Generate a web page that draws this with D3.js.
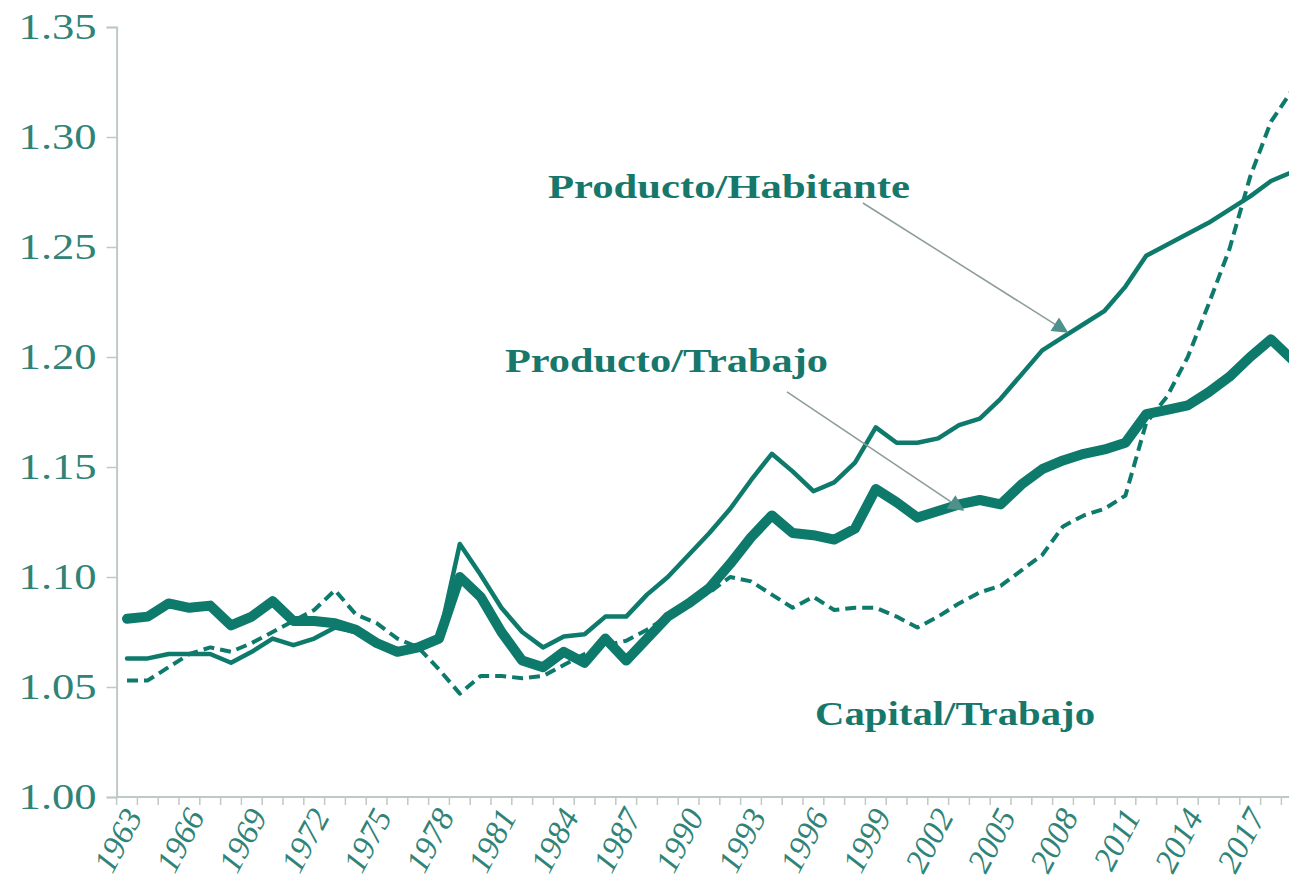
<!DOCTYPE html>
<html>
<head>
<meta charset="utf-8">
<script src="https://cdn.jsdelivr.net/npm/d3@7"></script>
<style>
  html, body { margin: 0; padding: 0; background: #ffffff; }
  svg { display: block; }
</style>
</head>
<body>
<svg id="chart" width="1289" height="887"></svg>
<script>
// ---------------- DATA ----------------
const years = [1963,1964,1965,1966,1967,1968,1969,1970,1971,1972,1973,1974,1975,1976,1977,1978,1979,1980,
  1981,1982,1983,1984,1985,1986,1987,1988,1989,1990,1991,1992,1993,1994,1995,1996,1997,1998,1999,2000,
  2001,2002,2003,2004,2005,2006,2007,2008,2009,2010,2011,2012,2013,2014,2015,2016,2017,2018,2019];

const productoHabitante = [1.063,1.063,1.065,1.065,1.065,1.061,1.066,1.072,1.069,1.072,1.077,1.075,1.070,1.066,1.068,1.072,1.115,1.101,
  1.086,1.075,1.068,1.073,1.074,1.082,1.082,1.092,1.100,1.110,1.120,1.131,1.144,1.156,1.148,1.139,1.143,1.152,1.168,1.161,
  1.161,1.163,1.169,1.172,1.181,1.192,1.203,1.209,1.215,1.221,1.232,1.246,1.251,1.256,1.261,1.267,1.273,1.280,1.284];

const productoTrabajo = [1.081,1.082,1.088,1.086,1.087,1.078,1.082,1.089,1.080,1.080,1.079,1.076,1.070,1.066,1.068,1.072,1.100,1.091,
  1.075,1.062,1.059,1.066,1.061,1.072,1.062,1.072,1.082,1.088,1.095,1.106,1.118,1.128,1.120,1.119,1.117,1.122,1.140,1.134,
  1.127,1.130,1.133,1.135,1.133,1.142,1.149,1.153,1.156,1.158,1.161,1.174,1.176,1.178,1.184,1.191,1.200,1.208,1.199];

const capitalTrabajo = [1.053,1.053,1.059,1.065,1.068,1.066,1.070,1.075,1.080,1.085,1.094,1.083,1.079,1.072,1.068,1.058,1.047,1.055,
  1.055,1.054,1.055,1.060,1.065,1.069,1.071,1.076,1.082,1.088,1.093,1.100,1.098,1.092,1.086,1.091,1.085,1.086,1.086,1.082,
  1.077,1.082,1.088,1.093,1.096,1.103,1.110,1.123,1.128,1.131,1.137,1.170,1.182,1.200,1.224,1.249,1.282,1.307,1.321];

const yTicks = [1.00,1.05,1.10,1.15,1.20,1.25,1.30,1.35];
const xTickLabels = [1963,1966,1969,1972,1975,1978,1981,1984,1987,1990,1993,1996,1999,2002,2005,2008,2011,2014,2017];

// annotation texts (start/end year, baseline value) and arrows (from -> to, in data units)
const labelTexts = ["Producto/Habitante", "Producto/Trabajo", "Capital/Trabajo"];
const labelStart = [1983.24, 1981.17, 1996.08];
const labelEnd   = [2000.64, 1996.70, 2009.54];
const labelValue = [1.2723, 1.1932, 1.0327];
const arrowFromYear = [1998.38, 1994.73];
const arrowFromVal  = [1.2700, 1.1841];
const arrowToYear   = [2008.19, 2003.19];
const arrowToVal    = [1.2114, 1.1305];

// ---------------- LAYOUT ----------------
const svg = d3.select("#chart");
const teal = "#0e7a6c";
const textTeal = "#17776b";
const axisCol = "#bfc9c6";

const x = d3.scaleLinear().domain([1962.5, 2019.5]).range([116.6, 116.6 + 57 * 20.8]);
const y = d3.scaleLinear().domain([1.00, 1.35]).range([797, 27]);

// Y axis
const yAxis = d3.axisLeft(y).tickValues(yTicks).tickSize(10).tickFormat(d3.format(".2f"));
const gy = svg.append("g").attr("transform", `translate(${x(1962.5)},0)`).call(yAxis);
gy.select(".domain").attr("stroke", axisCol).attr("stroke-width", 2);
gy.selectAll(".tick line").attr("stroke", axisCol).attr("stroke-width", 1.5);
gy.selectAll(".tick text")
  .attr("x", -20)
  .attr("textLength", 78)
  .attr("lengthAdjust", "spacingAndGlyphs")
  .attr("fill", "#2f8377")
  .style("font-family", "'Liberation Serif', serif")
  .style("font-size", "35px");

// X axis line and ticks
const boundaries = years.map(d => d - 0.5).concat([2019.5]);
svg.append("line")
  .attr("x1", x(1962.5)).attr("x2", 1289)
  .attr("y1", y(1.0)).attr("y2", y(1.0))
  .attr("stroke", axisCol).attr("stroke-width", 2);
svg.append("g").selectAll("line").data(boundaries).join("line")
  .attr("x1", d => x(d)).attr("x2", d => x(d))
  .attr("y1", y(1.0)).attr("y2", y(1.0) + 8)
  .attr("stroke", axisCol).attr("stroke-width", 1.5);

// X labels (rotated)
svg.append("g").selectAll("g").data(xTickLabels).join("g")
  .attr("transform", d => `translate(${x(d) + 6},${y(1.0) + 14}) rotate(-62)`)
  .append("text")
  .attr("text-anchor", "end")
  .attr("dy", "0.35em")
  .attr("fill", "#2f8377")
  .style("font-family", "'Liberation Serif', serif")
  .style("font-style", "italic")
  .style("font-size", "33px")
  .text(d => d);

// Lines
const mk = vals => d3.line().x((d, i) => x(years[i])).y(d => y(d))(vals);

svg.append("path").attr("d", mk(capitalTrabajo))
  .attr("fill", "none").attr("stroke", teal).attr("stroke-width", 4)
  .attr("stroke-dasharray", "11,6").attr("stroke-linejoin", "round");
svg.append("path").attr("d", mk(productoHabitante))
  .attr("fill", "none").attr("stroke", teal).attr("stroke-width", 4.5)
  .attr("stroke-linejoin", "round").attr("stroke-linecap", "round");
svg.append("path").attr("d", mk(productoTrabajo))
  .attr("fill", "none").attr("stroke", teal).attr("stroke-width", 10)
  .attr("stroke-linejoin", "round").attr("stroke-linecap", "round");

// Arrows
const defs = svg.append("defs");
defs.append("marker").attr("id", "arrowhead")
  .attr("viewBox", "0 0 10 10").attr("refX", 9).attr("refY", 5)
  .attr("markerWidth", 18).attr("markerHeight", 16)
  .attr("markerUnits", "userSpaceOnUse")
  .attr("orient", "auto")
  .append("path").attr("d", "M0,0 L10,5 L0,10 Z").attr("fill", "#4e918a");

svg.append("g").selectAll("line").data(arrowFromYear).join("line")
  .attr("x1", (d, i) => x(d)).attr("y1", (d, i) => y(arrowFromVal[i]))
  .attr("x2", (d, i) => x(arrowToYear[i])).attr("y2", (d, i) => y(arrowToVal[i]))
  .attr("stroke", "#8c9c98").attr("stroke-width", 1.5)
  .attr("marker-end", "url(#arrowhead)");

// Annotation labels
svg.append("g").selectAll("text").data(labelTexts).join("text")
  .attr("x", (d, i) => x(labelStart[i]))
  .attr("y", (d, i) => y(labelValue[i]))
  .attr("textLength", (d, i) => x(labelEnd[i]) - x(labelStart[i]))
  .attr("lengthAdjust", "spacingAndGlyphs")
  .attr("fill", textTeal)
  .style("font-family", "'Liberation Serif', serif")
  .style("font-weight", "bold")
  .style("font-size", "33px")
  .text(d => d);
</script>
</body>
</html>
